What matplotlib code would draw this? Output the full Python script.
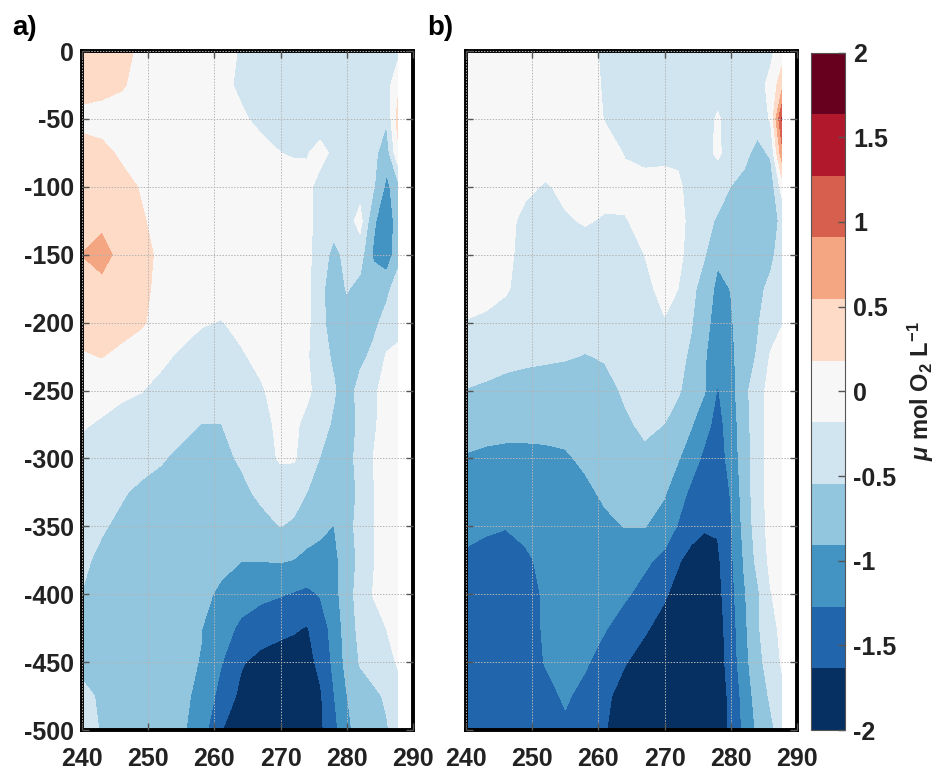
import matplotlib
matplotlib.use("Agg")
import matplotlib.pyplot as plt
import numpy as np

plt.rcParams['font.family'] = ['Liberation Sans', 'DejaVu Sans']
plt.rcParams['font.weight'] = 'bold'
plt.rcParams['axes.unicode_minus'] = False
plt.rcParams['mathtext.fontset'] = 'custom'
plt.rcParams['mathtext.rm'] = 'Liberation Sans:bold'
plt.rcParams['mathtext.it'] = 'Liberation Sans:italic'
plt.rcParams['mathtext.bf'] = 'Liberation Sans:bold'

# longitude (deg E) and depth (m) of the section grid
lon = [240, 243, 246, 249, 252, 255, 258, 261, 264, 267,
       270, 272, 274, 276, 278, 280, 282, 284, 286, 287.7]
depth = [0, -25, -50, -75, -100, -125, -150, -175, -200, -225, -250,
         -275, -300, -325, -350, -375, -400, -425, -450, -475, -500]

# O2 anomaly, umol/L, one row per depth level
o2_a = [
    [0.45, 0.40, 0.30, 0.10, 0.00, 0.00, 0.00, -0.10, -0.20, -0.30, -0.30, -0.30, -0.30, -0.30, -0.30, -0.30, -0.30, -0.30, -0.30, -0.30],
    [0.36, 0.30, 0.22, 0.05, 0.00, 0.00, 0.00, -0.08, -0.25, -0.30, -0.32, -0.32, -0.32, -0.32, -0.32, -0.32, -0.32, -0.32, -0.35, 0.10],
    [0.05, 0.03, 0.00, 0.00, 0.00, 0.00, 0.00, 0.00, -0.12, -0.28, -0.33, -0.35, -0.35, -0.35, -0.40, -0.35, -0.35, -0.40, -0.50, 0.30],
    [0.36, 0.28, 0.12, 0.00, 0.00, 0.00, 0.00, 0.00, 0.00, -0.05, -0.18, -0.22, -0.20, -0.08, -0.25, -0.35, -0.35, -0.45, -0.75, 0.10],
    [0.40, 0.40, 0.30, 0.15, 0.00, 0.00, 0.00, 0.00, 0.00, 0.00, 0.00, 0.00, -0.10, -0.30, -0.32, -0.32, -0.35, -0.50, -1.00, -0.70],
    [0.45, 0.45, 0.36, 0.22, 0.05, 0.00, 0.00, 0.00, 0.00, 0.00, 0.00, 0.00, -0.10, -0.30, -0.40, -0.35, -0.05, -0.85, -1.15, -0.75],
    [0.55, 0.70, 0.40, 0.30, 0.10, 0.00, 0.00, 0.00, 0.00, 0.00, 0.00, 0.00, -0.10, -0.35, -0.65, -0.45, -0.40, -0.95, -1.15, -0.70],
    [0.40, 0.42, 0.35, 0.25, 0.10, 0.00, 0.00, 0.00, 0.00, 0.00, 0.00, 0.00, -0.10, -0.45, -0.75, -0.52, -0.65, -0.75, -0.65, -0.35],
    [0.30, 0.30, 0.30, 0.22, 0.05, 0.00, -0.15, -0.20, -0.10, 0.00, 0.00, 0.00, -0.10, -0.45, -0.70, -0.70, -0.70, -0.65, -0.40, -0.30],
    [0.15, 0.19, 0.10, 0.00, -0.10, -0.25, -0.35, -0.35, -0.22, -0.10, 0.00, 0.00, -0.15, -0.40, -0.60, -0.75, -0.65, -0.45, -0.15, -0.10],
    [0.00, -0.05, -0.12, -0.17, -0.30, -0.40, -0.40, -0.40, -0.40, -0.22, -0.05, 0.00, -0.10, -0.35, -0.50, -0.75, -0.40, -0.25, -0.05, 0.00],
    [-0.15, -0.22, -0.30, -0.35, -0.40, -0.45, -0.55, -0.55, -0.45, -0.30, -0.10, -0.10, -0.30, -0.40, -0.60, -0.75, -0.45, -0.25, 0.00, 0.00],
    [-0.30, -0.35, -0.40, -0.45, -0.52, -0.62, -0.65, -0.60, -0.52, -0.30, -0.15, -0.15, -0.35, -0.56, -0.70, -0.70, -0.40, -0.18, 0.00, 0.00],
    [-0.38, -0.45, -0.52, -0.60, -0.65, -0.70, -0.72, -0.70, -0.60, -0.50, -0.35, -0.40, -0.55, -0.70, -0.80, -0.75, -0.45, -0.20, 0.00, 0.00],
    [-0.45, -0.52, -0.60, -0.65, -0.70, -0.72, -0.75, -0.75, -0.70, -0.62, -0.54, -0.60, -0.75, -0.82, -0.92, -0.70, -0.40, -0.20, 0.00, 0.00],
    [-0.50, -0.60, -0.65, -0.70, -0.72, -0.75, -0.80, -0.85, -0.90, -0.90, -0.88, -0.92, -1.00, -1.05, -1.00, -0.75, -0.45, -0.20, -0.05, 0.00],
    [-0.55, -0.62, -0.68, -0.72, -0.75, -0.80, -0.85, -0.95, -1.10, -1.20, -1.25, -1.30, -1.35, -1.25, -1.05, -0.70, -0.40, -0.17, -0.05, 0.00],
    [-0.60, -0.65, -0.70, -0.75, -0.80, -0.85, -0.90, -1.10, -1.35, -1.45, -1.55, -1.60, -1.66, -1.45, -1.15, -0.75, -0.45, -0.30, -0.18, -0.05],
    [-0.65, -0.68, -0.72, -0.76, -0.80, -0.85, -0.92, -1.25, -1.60, -1.75, -1.80, -1.80, -1.75, -1.55, -1.20, -0.80, -0.52, -0.40, -0.30, -0.15],
    [-0.45, -0.60, -0.68, -0.73, -0.78, -0.83, -1.00, -1.40, -1.72, -1.85, -1.90, -1.90, -1.85, -1.68, -1.30, -0.92, -0.70, -0.62, -0.50, -0.30],
    [-0.35, -0.58, -0.68, -0.73, -0.78, -0.85, -1.10, -1.62, -1.85, -1.90, -1.90, -1.90, -1.85, -1.70, -1.40, -1.00, -0.75, -0.65, -0.58, -0.40],
]

o2_b = [
    [0.00, 0.00, 0.00, 0.00, 0.00, 0.00, -0.05, -0.25, -0.30, -0.30, -0.30, -0.30, -0.30, -0.30, -0.30, -0.30, -0.30, -0.30, -0.25, 0.00],
    [0.00, 0.00, 0.00, 0.00, 0.00, 0.00, -0.05, -0.22, -0.30, -0.30, -0.30, -0.30, -0.30, -0.30, -0.30, -0.30, -0.30, -0.30, -0.10, 0.40],
    [0.00, 0.00, 0.00, 0.00, 0.00, 0.00, 0.00, -0.20, -0.30, -0.30, -0.30, -0.30, -0.30, -0.30, -0.15, -0.30, -0.35, -0.40, -0.15, 1.30],
    [0.00, 0.00, 0.00, 0.00, 0.00, 0.00, 0.00, -0.05, -0.20, -0.25, -0.25, -0.25, -0.30, -0.30, -0.12, -0.35, -0.45, -0.65, -0.50, 0.75],
    [0.00, 0.00, 0.00, -0.10, -0.22, -0.10, -0.05, -0.05, -0.10, -0.10, -0.08, -0.12, -0.30, -0.35, -0.42, -0.55, -0.65, -0.75, -0.75, -0.05],
    [0.00, 0.00, -0.05, -0.30, -0.35, -0.22, -0.15, -0.22, -0.20, -0.10, -0.05, -0.10, -0.25, -0.45, -0.58, -0.70, -0.75, -0.80, -0.75, -0.45],
    [0.00, 0.00, -0.10, -0.30, -0.35, -0.35, -0.35, -0.35, -0.30, -0.18, -0.05, -0.10, -0.30, -0.52, -0.85, -0.85, -0.80, -0.75, -0.65, -0.35],
    [0.00, -0.05, -0.15, -0.30, -0.35, -0.35, -0.35, -0.35, -0.35, -0.25, -0.10, -0.18, -0.45, -0.70, -1.00, -0.90, -0.75, -0.65, -0.45, -0.30],
    [-0.20, -0.25, -0.30, -0.32, -0.35, -0.38, -0.40, -0.40, -0.38, -0.35, -0.20, -0.30, -0.52, -0.80, -1.05, -0.95, -0.70, -0.58, -0.35, -0.20],
    [-0.35, -0.40, -0.45, -0.48, -0.50, -0.52, -0.56, -0.52, -0.40, -0.35, -0.40, -0.45, -0.60, -0.88, -1.10, -1.00, -0.70, -0.52, -0.15, -0.05],
    [-0.56, -0.60, -0.65, -0.68, -0.70, -0.72, -0.72, -0.65, -0.50, -0.40, -0.40, -0.50, -0.70, -0.88, -1.30, -1.05, -0.65, -0.35, -0.05, 0.00],
    [-0.70, -0.75, -0.78, -0.78, -0.78, -0.80, -0.75, -0.68, -0.60, -0.48, -0.55, -0.70, -0.88, -1.15, -1.40, -1.10, -0.70, -0.35, -0.05, 0.00],
    [-0.95, -1.00, -1.02, -1.02, -1.00, -0.95, -0.85, -0.75, -0.68, -0.62, -0.72, -0.88, -1.10, -1.35, -1.45, -1.15, -0.72, -0.35, -0.05, 0.00],
    [-1.05, -1.10, -1.12, -1.10, -1.08, -1.02, -0.98, -0.85, -0.75, -0.72, -0.88, -1.10, -1.35, -1.50, -1.55, -1.25, -0.75, -0.35, -0.05, 0.00],
    [-1.15, -1.20, -1.25, -1.20, -1.15, -1.10, -1.05, -0.98, -0.90, -0.90, -1.05, -1.30, -1.50, -1.60, -1.60, -1.30, -0.80, -0.38, -0.05, 0.00],
    [-1.35, -1.45, -1.50, -1.32, -1.20, -1.15, -1.12, -1.10, -1.10, -1.20, -1.38, -1.60, -1.75, -1.80, -1.70, -1.35, -0.88, -0.45, -0.10, 0.00],
    [-1.45, -1.50, -1.50, -1.42, -1.22, -1.15, -1.12, -1.15, -1.22, -1.40, -1.60, -1.75, -1.85, -1.85, -1.75, -1.40, -0.95, -0.62, -0.20, -0.05],
    [-1.48, -1.50, -1.50, -1.45, -1.22, -1.15, -1.15, -1.25, -1.45, -1.60, -1.75, -1.85, -1.90, -1.90, -1.80, -1.45, -1.00, -0.60, -0.30, -0.10],
    [-1.50, -1.50, -1.50, -1.48, -1.25, -1.10, -1.22, -1.45, -1.62, -1.75, -1.85, -1.90, -1.90, -1.90, -1.82, -1.48, -1.05, -0.65, -0.40, -0.15],
    [-1.50, -1.50, -1.50, -1.50, -1.40, -1.22, -1.40, -1.58, -1.75, -1.85, -1.90, -1.90, -1.90, -1.90, -1.85, -1.55, -1.15, -0.75, -0.50, -0.25],
    [-1.50, -1.50, -1.50, -1.50, -1.45, -1.35, -1.45, -1.62, -1.80, -1.88, -1.90, -1.90, -1.90, -1.90, -1.85, -1.58, -1.20, -0.85, -0.62, -0.40],
]

levels = np.linspace(-2, 2, 12)
rdbu = ['#053061', '#2166ac', '#4393c3', '#92c5de', '#d1e5f0', '#f7f7f7',
        '#fddbc7', '#f4a582', '#d6604d', '#b2182b', '#67001f']
cbar_ticks = [-2, -1.5, -1, -0.5, 0, 0.5, 1, 1.5, 2]
panel_tags = ['a)', 'b)']

fig = plt.figure(figsize=(9.41, 7.74), dpi=100)
ax_a = fig.add_axes([0.0871, 0.0568, 0.3518, 0.8773])
ax_b = fig.add_axes([0.4952, 0.0568, 0.3518, 0.8773])
cax = fig.add_axes([0.8618, 0.0568, 0.0361, 0.8752])

for ax, field in zip([ax_a, ax_b], [o2_a, o2_b]):
    cs = ax.contourf(lon, depth, np.array(field), levels=levels, colors=rdbu)
    ax.set_xlim(240, 290)
    ax.set_ylim(-500, 0)
    ax.set_xticks(range(240, 291, 10))
    ax.set_yticks(range(-500, 1, 50))
    ax.grid(True, linestyle=(0, (1.5, 1.5)), color='#b5b5b5', linewidth=0.7)
    ax.set_axisbelow(False)
    ax.tick_params(direction='in', length=5, width=1, top=True, right=True,
                   labelsize=18, color='#555555', labelcolor='#222222')
    ax.tick_params(axis='x', pad=12)
    ax.tick_params(axis='y', pad=6)
    for sp in ax.spines.values():
        sp.set_linewidth(2.8)
        sp.set_color('black')

ax_b.tick_params(labelleft=False)

fig.text(12 / 941, 1 - 28 / 774, panel_tags[0], fontsize=20, fontweight='bold',
         ha='left', va='center')
fig.text(427 / 941, 1 - 28 / 774, panel_tags[1], fontsize=20, fontweight='bold',
         ha='left', va='center')

cb = fig.colorbar(cs, cax=cax, ticks=cbar_ticks)
cb.set_ticklabels([f'{t:g}' for t in cbar_ticks])
cb.outline.set_linewidth(0.8)
cb.outline.set_edgecolor('#555555')
cax.tick_params(direction='in', length=5, width=1, labelsize=18, pad=6,
                color='#555555', labelcolor='#222222')
cb.set_label(r'$\mu$ mol O$_{2}$ L$^{-1}$', fontsize=17, fontweight='bold',
             labelpad=7, color='#222222')

fig.savefig('out.png', dpi=100)
